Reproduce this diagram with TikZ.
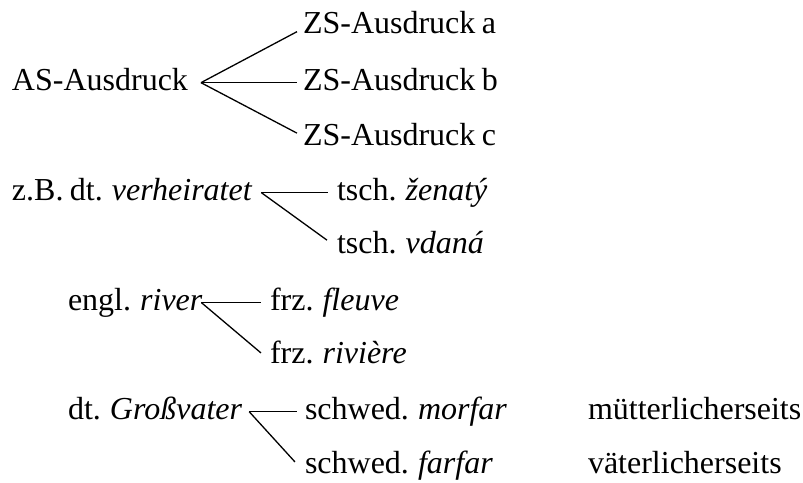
\documentclass[tikz,border=0pt]{standalone}
\usepackage{fontspec}
\setmainfont[WordSpace=0.8]{Liberation Serif}
\begin{document}
\fontsize{32}{38}\selectfont
\begin{tikzpicture}[x=1pt,y=-1pt,
  term/.style={anchor=base west,inner sep=0pt,outer sep=0pt,
    font=\fontsize{32}{38}\selectfont},
  branch/.style={line width=1.3pt}]
\useasboundingbox (0,0) rectangle (803,482);

% AS expression with three target-language equivalents
\node[term] (as)  at (12,90)  {AS-Ausdruck};
\node[term] (zsa) at (303,33) {ZS-Ausdruck a};
\node[term] (zsb) at (303,90) {ZS-Ausdruck b};
\node[term] (zsc) at (303,145) {ZS-Ausdruck c};
\coordinate (asfan) at ([xshift=13pt]as.mid east);
\draw[branch] (asfan) -- ([xshift=-6pt,yshift=-6pt]zsa.mid west);
\draw[branch] (asfan) -- ([xshift=-6pt]zsb.mid west);
\draw[branch] (asfan) -- ([xshift=-6pt,yshift=4.5pt]zsc.mid west);

% German -> Czech
\node[term] (verh) at (12,200)  {z.B. dt. \textit{verheiratet}};
\node[term] (zen)  at (337,200) {tsch. \textit{ženatý}};
\node[term] (vda)  at (337,253) {tsch. \textit{vdaná}};
\coordinate (verhfan) at ([xshift=9pt]verh.mid east);
\draw[branch] (verhfan) -- ([xshift=-9pt]zen.mid west);
\draw[branch] (verhfan) -- ([xshift=-10pt,yshift=5.5pt]vda.mid west);

% English -> French
\node[term] (river) at (68,310)  {engl. \textit{river}};
\node[term] (fle)   at (270,310) {frz. \textit{fleuve}};
\node[term] (riv)   at (270,363) {frz. \textit{rivière}};
\coordinate (riverfan) at ([xshift=-1pt]river.mid east);
\draw[branch] (riverfan) -- ([xshift=-9pt]fle.mid west);
\draw[branch] (riverfan) -- ([xshift=-9pt,yshift=2.7pt]riv.mid west);

% German -> Swedish
\node[term] (gross) at (68,419)  {dt. \textit{Großvater}};
\node[term] (mor)   at (305,419) {schwed. \textit{morfar}};
\node[term] (far)   at (305,473) {schwed. \textit{farfar}};
\node[term] (mut)   at (588,419) {mütterlicherseits};
\node[term] (vat)   at (588,473) {väterlicherseits};
\coordinate (grossfan) at ([xshift=7pt]gross.mid east);
\draw[branch] (grossfan) -- ([xshift=-8pt]mor.mid west);
\draw[branch] (grossfan) -- ([xshift=-10pt,yshift=3.7pt]far.mid west);
\end{tikzpicture}
\end{document}
